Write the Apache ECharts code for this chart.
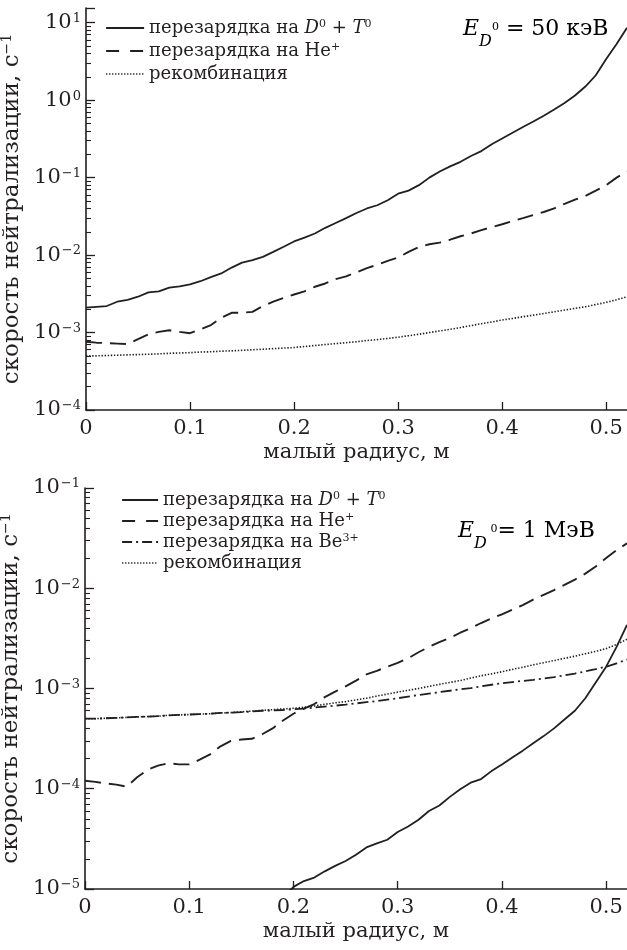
<!DOCTYPE html>
<html><head><meta charset="utf-8">
<script src="https://cdn.jsdelivr.net/npm/echarts@6/dist/echarts.min.js"></script>
<style>html,body{margin:0;padding:0;background:#fff}#c{width:627px;height:950px}</style>
</head><body><div id="c"></div>
<script>
// ---- data ----
const radius = [0,0.01,0.02,0.03,0.04,0.05,0.06,0.07,0.08,0.09,0.1,0.11,0.12,0.13,0.14,0.15,0.16,0.17,0.18,0.19,0.2,0.21,0.22,0.23,0.24,0.25,0.26,0.27,0.28,0.29,0.3,0.31,0.32,0.33,0.34,0.35,0.36,0.37,0.38,0.39,0.4,0.41,0.42,0.43,0.44,0.45,0.46,0.47,0.48,0.49,0.5,0.51,0.52];

const top50_DT = [2.1e-3,2.15e-3,2.2e-3,2.5e-3,2.65e-3,2.9e-3,3.3e-3,3.4e-3,3.8e-3,3.95e-3,
4.2e-3,4.6e-3,5.2e-3,5.8e-3,6.9e-3,8.0e-3,8.6e-3,9.5e-3,1.1e-2,1.28e-2,
1.5e-2,1.68e-2,1.9e-2,2.25e-2,2.6e-2,3.0e-2,3.5e-2,4.0e-2,4.4e-2,5.1e-2,
6.2e-2,6.8e-2,8.0e-2,1.0e-1,1.2e-1,1.4e-1,1.6e-1,1.9e-1,2.2e-1,2.7e-1,
3.2e-1,3.8e-1,4.5e-1,5.3e-1,6.3e-1,7.6e-1,9.2e-1,1.15,1.5,2.1,
3.4,5.3,8.6];
const top50_He = [7.6e-4,7.4e-4,7.3e-4,7.2e-4,7.1e-4,8.2e-4,9.5e-4,1.02e-3,1.07e-3,1.02e-3,
9.8e-4,1.1e-3,1.25e-3,1.55e-3,1.8e-3,1.8e-3,1.85e-3,2.2e-3,2.5e-3,2.8e-3,
3.1e-3,3.4e-3,3.9e-3,4.3e-3,4.9e-3,5.3e-3,6.0e-3,6.8e-3,7.5e-3,8.4e-3,
9.3e-3,1.1e-2,1.27e-2,1.38e-2,1.45e-2,1.58e-2,1.75e-2,1.9e-2,2.1e-2,2.3e-2,
2.5e-2,2.75e-2,3.0e-2,3.3e-2,3.6e-2,4.0e-2,4.6e-2,5.2e-2,5.8e-2,6.8e-2,
8.0e-2,1.0e-1,1.2e-1];
const top50_Rec = [5.0e-4,5.0e-4,5.05e-4,5.1e-4,5.15e-4,5.2e-4,5.25e-4,5.3e-4,5.4e-4,5.45e-4,
5.5e-4,5.6e-4,5.65e-4,5.75e-4,5.8e-4,5.9e-4,6.0e-4,6.1e-4,6.2e-4,6.3e-4,
6.4e-4,6.6e-4,6.8e-4,7.0e-4,7.2e-4,7.4e-4,7.6e-4,7.9e-4,8.1e-4,8.4e-4,
8.7e-4,9.1e-4,9.5e-4,1.0e-3,1.05e-3,1.1e-3,1.16e-3,1.23e-3,1.3e-3,1.37e-3,
1.45e-3,1.52e-3,1.6e-3,1.68e-3,1.76e-3,1.85e-3,1.95e-3,2.05e-3,2.15e-3,2.3e-3,
2.45e-3,2.65e-3,2.9e-3];

const bot1M_DT = [null,null,null,null,null,null,null,null,null,null,null,null,null,null,null,null,null,null,null,8.0e-6,
1.05e-5,1.2e-5,1.3e-5,1.5e-5,1.7e-5,1.9e-5,2.2e-5,2.6e-5,2.85e-5,3.1e-5,
3.7e-5,4.2e-5,4.9e-5,6.0e-5,6.8e-5,8.3e-5,9.9e-5,1.15e-4,1.25e-4,1.5e-4,
1.75e-4,2.05e-4,2.4e-4,2.85e-4,3.35e-4,4.0e-4,4.9e-4,6.0e-4,8.0e-4,1.15e-3,
1.65e-3,2.6e-3,4.3e-3];
const bot1M_He = [1.2e-4,1.17e-4,1.13e-4,1.1e-4,1.05e-4,1.3e-4,1.55e-4,1.7e-4,1.8e-4,1.75e-4,
1.75e-4,1.95e-4,2.2e-4,2.65e-4,3.0e-4,3.1e-4,3.15e-4,3.5e-4,4.0e-4,4.8e-4,
5.6e-4,6.3e-4,7.0e-4,8.2e-4,9.3e-4,1.05e-3,1.2e-3,1.38e-3,1.5e-3,1.65e-3,
1.8e-3,2.0e-3,2.3e-3,2.6e-3,2.9e-3,3.2e-3,3.6e-3,4.0e-3,4.5e-3,5.0e-3,
5.5e-3,6.1e-3,6.8e-3,7.7e-3,8.6e-3,9.6e-3,1.08e-2,1.22e-2,1.4e-2,1.65e-2,
2.0e-2,2.4e-2,2.8e-2];
const bot1M_Be = [5.0e-4,5.0e-4,5.05e-4,5.1e-4,5.15e-4,5.2e-4,5.25e-4,5.3e-4,5.4e-4,5.45e-4,
5.5e-4,5.55e-4,5.6e-4,5.7e-4,5.75e-4,5.8e-4,5.9e-4,6.0e-4,6.05e-4,6.1e-4,
6.2e-4,6.3e-4,6.45e-4,6.6e-4,6.75e-4,6.9e-4,7.1e-4,7.3e-4,7.5e-4,7.75e-4,
8.0e-4,8.3e-4,8.6e-4,8.9e-4,9.2e-4,9.5e-4,9.8e-4,1.01e-3,1.05e-3,1.09e-3,
1.13e-3,1.16e-3,1.19e-3,1.22e-3,1.26e-3,1.3e-3,1.35e-3,1.41e-3,1.48e-3,1.56e-3,
1.65e-3,1.78e-3,1.95e-3];
const bot1M_Rec = [5.0e-4,5.0e-4,5.05e-4,5.1e-4,5.15e-4,5.2e-4,5.25e-4,5.3e-4,5.4e-4,5.45e-4,
5.5e-4,5.55e-4,5.6e-4,5.7e-4,5.75e-4,5.85e-4,5.95e-4,6.05e-4,6.15e-4,6.25e-4,
6.35e-4,6.5e-4,6.7e-4,6.95e-4,7.2e-4,7.4e-4,7.7e-4,8.0e-4,8.4e-4,8.8e-4,
9.2e-4,9.6e-4,1.0e-3,1.05e-3,1.1e-3,1.15e-3,1.2e-3,1.27e-3,1.34e-3,1.4e-3,
1.47e-3,1.55e-3,1.63e-3,1.72e-3,1.81e-3,1.9e-3,2.0e-3,2.1e-3,2.22e-3,2.35e-3,
2.5e-3,2.75e-3,3.1e-3];

const xTicks = [0, 0.1, 0.2, 0.3, 0.4, 0.5];
const seriesNames = ['перезарядка на D⁰ + T⁰', 'перезарядка на He⁺', 'перезарядка на Be³⁺', 'рекомбинация'];
const legendRichText = {
  'перезарядка на D⁰ + T⁰': '{n|перезарядка на }{i|D}{s|0}{n| + }{i|T}{s|0}',
  'перезарядка на He⁺': '{n|перезарядка на He}{s|+}',
  'перезарядка на Be³⁺': '{n|перезарядка на Be}{s|3+}',
  'рекомбинация': '{n|рекомбинация}'
};
const topRange = [1e-4, 15.5];
const botRange = [1e-5, 0.1];
const xRange = [0, 0.52];

// ---- rendering ----
const SERIF = '"DejaVu Serif","Liberation Serif",serif';
const INK = '#231f20';
const chart = echarts.init(document.getElementById('c'), null, {renderer: 'canvas'});

function pairs(ys) { return radius.map((x, i) => [x, ys[i]]); }
function minorTicks(lo, hi) {
  const out = [];
  for (let n = Math.floor(Math.log10(lo)); n <= Math.ceil(Math.log10(hi)); n++) {
    for (let k = 2; k <= 9; k++) {
      const v = Math.log10(k) + n;
      if (v > Math.log10(lo) && v < Math.log10(hi)) out.push(v);
    }
  }
  return out;
}
const styles = {
  solid: {type: 'solid', width: 1.8},
  dashed: {type: [16, 8], width: 1.9},
  dashdot: {type: [11, 4, 2, 4], width: 1.8},
  dotted: {type: [1.4, 1.7], width: 1.6}
};
const legendLine = {
  solid: {type: 'solid', width: 2},
  dashed: {type: [13, 11], width: 2.2},
  dashdot: {type: [10, 4, 2, 4], width: 2},
  dotted: {type: [1.3, 1.7], width: 1.6}
};
function line(name, ys, xi, yi, st) {
  return {
    type: 'line', name, data: pairs(ys), xAxisIndex: xi, yAxisIndex: yi,
    showSymbol: false, symbol: 'none', connectNulls: false, clip: true,
    lineStyle: Object.assign({color: INK}, st), itemStyle: {color: INK},
    silent: true
  };
}
const labelRich = {
  b: {fontFamily: SERIF, fontSize: 21, color: INK},
  s: {fontFamily: SERIF, fontSize: 13, color: INK, verticalAlign: 'top', padding: [0, 0, 0, 1]}
};
function logLabel(v) {
  const e = Math.log10(v);
  if (Math.abs(e - Math.round(e)) > 1e-6) return '';
  const r = Math.round(e);
  return '{b|10}{s|' + (r < 0 ? '−' + (-r) : r) + '}';
}
const nameRich = {
  n: {fontFamily: SERIF, fontSize: 23, color: INK},
  s: {fontFamily: SERIF, fontSize: 14, color: INK, verticalAlign: 'top'}
};
function xAxis(gi) {
  return {
    type: 'value', gridIndex: gi, min: xRange[0], max: xRange[1],
    axisLine: {show: true, onZero: false, lineStyle: {color: INK, width: 1.6}},
    axisTick: {show: true, inside: true, length: 8, customValues: xTicks, lineStyle: {color: INK, width: 1.3}},
    axisLabel: {show: true, customValues: xTicks, margin: 8, fontFamily: SERIF, fontSize: 21, color: INK,
      formatter: v => String(+v.toFixed(2))},
    splitLine: {show: false},
    name: 'малый радиус, м', nameLocation: 'middle', nameGap: 32,
    nameTextStyle: {fontFamily: SERIF, fontSize: 21, color: INK}
  };
}
function yAxes(gi, range) {
  return [{
    type: 'log', logBase: 10, gridIndex: gi, min: range[0], max: range[1], position: 'left',
    axisLine: {show: true, onZero: false, lineStyle: {color: INK, width: 1.6}},
    axisTick: {show: true, inside: true, length: 9, lineStyle: {color: INK, width: 1.3}},
    axisLabel: {show: true, margin: 5, formatter: logLabel, rich: labelRich},
    splitLine: {show: false}, minorTick: {show: false},
    name: '{n|скорость нейтрализации, с}{s|−1}', nameLocation: 'middle', nameGap: 57, nameRotate: 90,
    nameTextStyle: {rich: nameRich}
  }, {
    type: 'value', gridIndex: gi, position: 'left', offset: 0,
    min: Math.log10(range[0]), max: Math.log10(range[1]),
    axisLine: {show: false}, axisLabel: {show: false}, splitLine: {show: false},
    axisTick: {show: true, inside: true, length: 5, customValues: minorTicks(range[0], range[1]),
      lineStyle: {color: INK, width: 1.1}}
  }];
}
const legRich = {
  n: {fontFamily: SERIF, fontSize: 18, color: INK},
  i: {fontFamily: SERIF, fontSize: 18, color: INK, fontStyle: 'italic'},
  s: {fontFamily: SERIF, fontSize: 11, color: INK, verticalAlign: 'top'}
};
function legend(items, left, top, w, gap) {
  return {
    orient: 'vertical', left, top, itemWidth: w, itemHeight: 14, itemGap: gap,
    data: items.map(it => ({name: it[0], lineStyle: Object.assign({color: INK}, it[1])})),
    selectedMode: false,
    itemStyle: {opacity: 0},
    formatter: n => legendRichText[n],
    textStyle: {rich: legRich}
  };
}
const eRich = {
  e: {fontFamily: SERIF, fontSize: 22, fontStyle: 'italic', color: INK, verticalAlign: 'top'},
  d: {fontFamily: SERIF, fontSize: 16, fontStyle: 'italic', color: INK, verticalAlign: 'bottom'},
  z: {fontFamily: SERIF, fontSize: 11, color: INK, verticalAlign: 'top', padding: [4, 0, 0, 0]},
  n: {fontFamily: SERIF, fontSize: 22, color: INK, verticalAlign: 'top'}
};

chart.setOption({
  animation: false,
  backgroundColor: '#fff',
  grid: [
    {left: 86, top: 8, width: 541, height: 402, outerBoundsMode: 'none', containLabel: false},
    {left: 85, top: 488, width: 542, height: 401, outerBoundsMode: 'none', containLabel: false}
  ],
  xAxis: [xAxis(0), xAxis(1)],
  yAxis: [...yAxes(0, topRange), ...yAxes(1, botRange)],
  legend: [
    legend([[seriesNames[0], legendLine.solid], [seriesNames[1], legendLine.dashed], [seriesNames[3], legendLine.dotted]], 100, 14, 38, 5),
    legend([[seriesNames[0], legendLine.solid], [seriesNames[1], legendLine.dashed], [seriesNames[2], legendLine.dashdot], [seriesNames[3], legendLine.dotted]], 116, 486, 36, 3)
  ],
  graphic: [
    {type: 'text', left: 463, top: 18, style: {text: '{e|E}{d|D}{z|0}{n| = 50 кэВ}', rich: eRich, lineHeight: 32}},
    {type: 'text', left: 458, top: 520, style: {text: '{e|E}{d|D}{z| 0}{n|= 1 МэВ}', rich: eRich, lineHeight: 32}}
  ],
  series: [
    line(seriesNames[0], top50_DT, 0, 0, styles.solid),
    line(seriesNames[1], top50_He, 0, 0, styles.dashed),
    line(seriesNames[3], top50_Rec, 0, 0, styles.dotted),
    line(seriesNames[0], bot1M_DT, 1, 2, styles.solid),
    line(seriesNames[1], bot1M_He, 1, 2, styles.dashed),
    line(seriesNames[2], bot1M_Be, 1, 2, styles.dashdot),
    line(seriesNames[3], bot1M_Rec, 1, 2, styles.dotted)
  ]
});
</script></body></html>
